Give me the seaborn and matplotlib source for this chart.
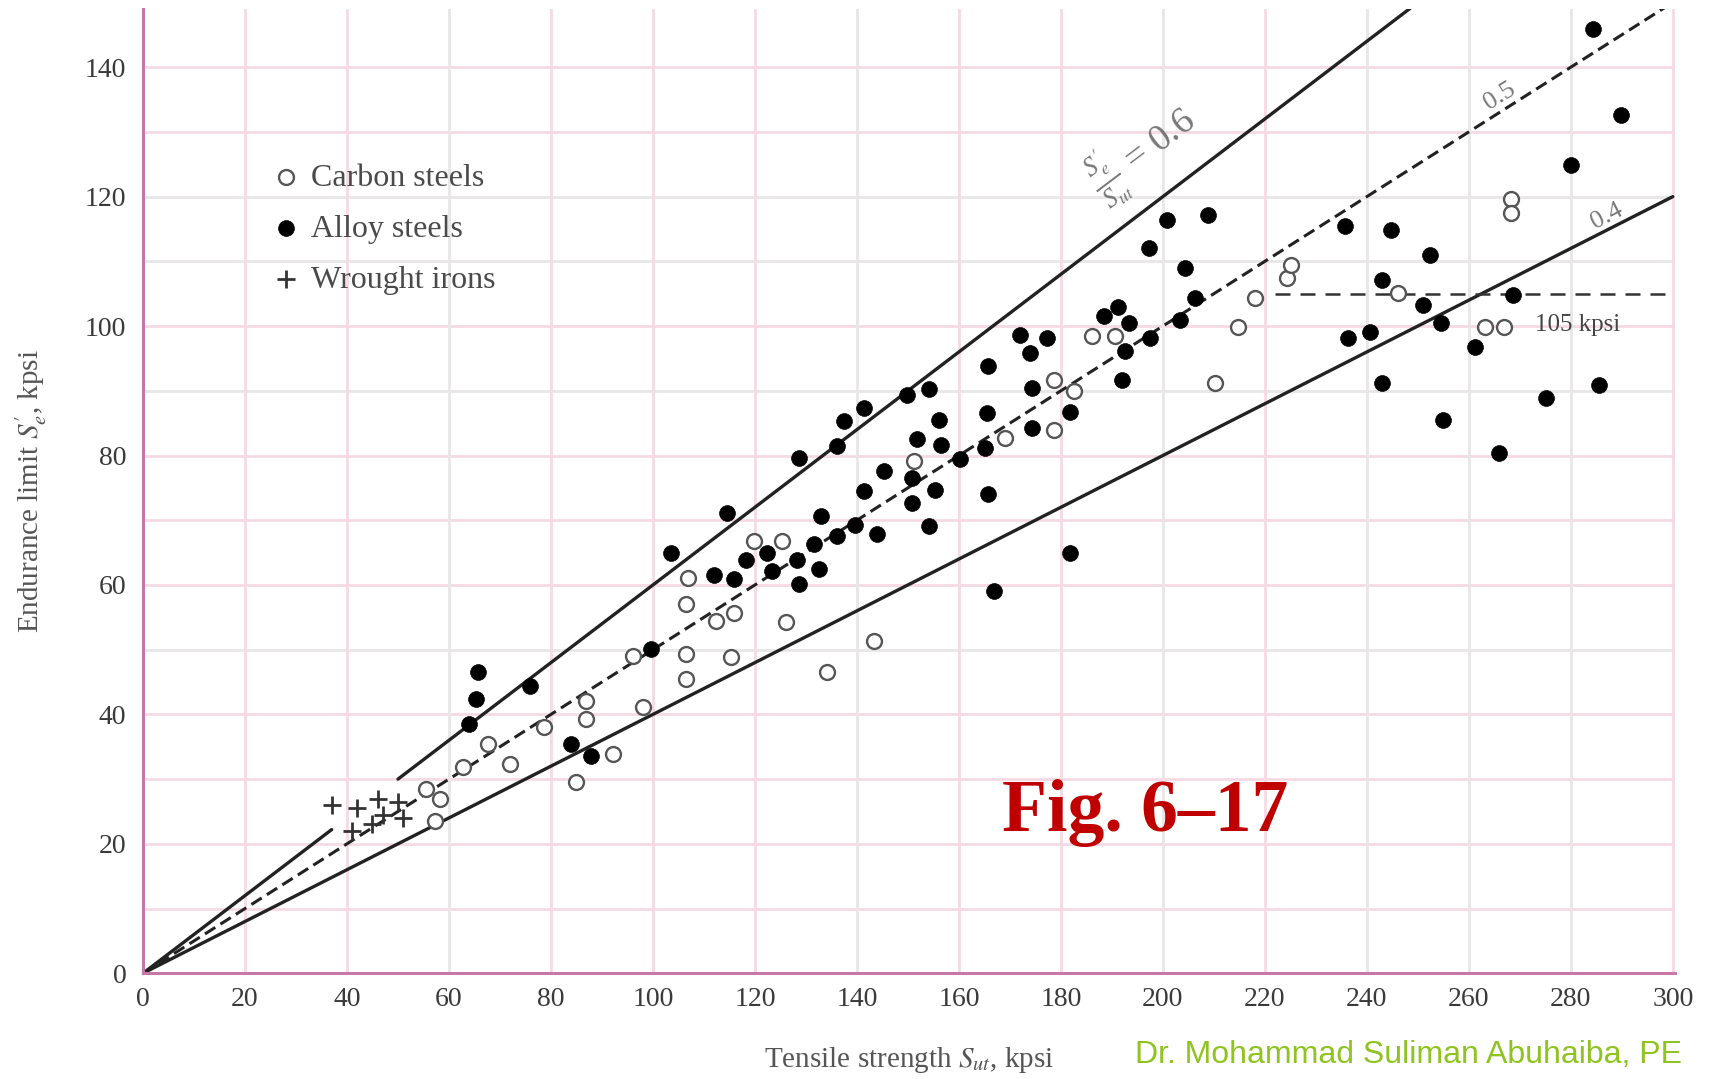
import matplotlib
matplotlib.use('Agg')
import matplotlib.pyplot as plt
import seaborn as sns
import numpy as np
import pandas as pd

# endurance limit vs tensile strength (kpsi)
carbon_x = [55.5, 58.2, 57.2, 62.7, 67.6, 71.9, 78.7, 84.9, 86.9, 86.9, 92.1, 96.0, 98.0,
            106.8, 106.5, 112.3, 115.9, 106.5, 115.3, 106.5, 119.8, 125.4, 126.0, 134.2, 143.3, 151.2,
            169.1, 178.6, 182.5, 178.6, 186.1, 190.6, 210.2, 214.8, 218.1, 224.3, 225.2,
            246.1, 263.1, 267.0, 268.3, 268.3]
carbon_y = [28.5, 26.9, 23.6, 31.8, 35.4, 32.3, 38.0, 29.5, 42.1, 39.3, 33.9, 49.0, 41.1,
            61.1, 57.0, 54.4, 55.7, 49.3, 48.8, 45.4, 66.8, 66.8, 54.2, 46.5, 51.3, 79.1,
            82.7, 91.7, 89.9, 84.0, 98.4, 98.4, 91.2, 99.9, 104.3, 107.4, 109.4,
            105.1, 99.9, 99.9, 119.7, 117.4]

alloy_x = [64.0, 65.3, 65.6, 75.8, 83.9, 87.9, 99.6,
           103.5, 112.0, 114.6, 115.9, 118.2, 122.4, 123.4, 128.3, 128.6, 128.6, 131.6, 132.6, 132.9,
           136.1, 136.1, 137.5, 139.7, 141.4, 141.4, 144.0, 145.3, 149.9, 150.8, 150.8, 151.8, 154.1,
           154.1, 155.4, 156.1, 156.4, 160.3, 165.2, 165.5, 165.8, 165.8, 166.8,
           172.0, 174.0, 174.3, 174.3, 177.3, 181.8, 181.8, 188.4, 191.3, 191.9, 192.6, 193.3, 197.2,
           197.5, 200.8, 203.4, 204.4, 206.3, 208.9,
           235.7, 236.4, 240.6, 242.9, 242.9, 244.8, 251.0, 252.3, 254.6, 254.9, 261.2, 266.0, 268.7,
           275.2, 280.1, 284.3, 285.6, 289.9]
alloy_y = [38.5, 42.4, 46.5, 44.4, 35.4, 33.6, 50.1,
           65.0, 61.6, 71.1, 60.9, 63.9, 65.0, 62.1, 63.9, 60.1, 79.6, 66.3, 62.4, 70.6,
           67.5, 81.4, 85.3, 69.3, 87.3, 74.5, 67.8, 77.6, 89.4, 76.5, 72.7, 82.5, 90.2,
           69.1, 74.7, 85.5, 81.7, 79.4, 81.2, 86.6, 93.8, 74.0, 59.1,
           98.6, 95.8, 90.4, 84.3, 98.1, 86.8, 65.0, 101.5, 103.0, 91.7, 96.1, 100.4, 112.0,
           98.1, 116.4, 101.0, 108.9, 104.3, 117.2,
           115.4, 98.1, 99.1, 107.1, 91.2, 114.9, 103.3, 111.0, 100.4, 85.5, 96.8, 80.4, 104.8,
           88.9, 124.9, 145.9, 90.9, 132.6]

wrought_x = [37, 42, 46, 47, 50, 51, 45, 41]
wrought_y = [26, 25.5, 27, 24.5, 26.5, 24, 23, 22]

# Se'/Sut ratio lines and the 105 kpsi cap
ratio_upper = 0.6
ratio_mid = 0.5
ratio_lower = 0.4
upper_segments = [(0, 37), (50, 248.5)]
cap_kpsi = 105
cap_start = 222

x_ticks = list(range(0, 301, 20))
y_ticks = list(range(0, 141, 20))

sns.set_theme(style='white')
plt.rcParams['font.family'] = ['Liberation Serif', 'DejaVu Serif']
plt.rcParams['mathtext.fontset'] = 'stix'

fig, ax = plt.subplots(figsize=(17.13, 10.79), dpi=100)
fig.subplots_adjust(left=0.0835, right=0.978, bottom=0.098, top=0.9917)

# graph paper grid
pink = '#f5d9e4'
grey = '#e9e6e8'
for yv in range(10, 150, 10):
    ax.axhline(yv, color=grey if yv in (50, 90, 110, 120) else pink, lw=2.0, zorder=0)
for xv in range(20, 301, 20):
    ax.axvline(xv, color=grey if xv in (60, 140, 200, 240, 260, 280) else pink, lw=2.0, zorder=0)

# ratio lines
for x0, x1 in upper_segments:
    xs = np.array([x0, x1])
    ax.plot(xs, ratio_upper * xs, color='#222222', lw=2.4, zorder=2)
xs = np.array([0, 300])
ax.plot(xs, ratio_mid * xs, color='#222222', lw=2.2, dashes=(4, 2), zorder=2)
ax.plot(xs, ratio_lower * xs, color='#222222', lw=2.4, zorder=2)
ax.plot([cap_start, 300], [cap_kpsi, cap_kpsi], color='#333333', lw=1.8, dashes=(6, 4), zorder=2)

# data
carbon = pd.DataFrame({'Sut': carbon_x, 'Se': carbon_y})
alloy = pd.DataFrame({'Sut': alloy_x, 'Se': alloy_y})
wrought = pd.DataFrame({'Sut': wrought_x, 'Se': wrought_y})

sns.scatterplot(data=carbon, x='Sut', y='Se', marker='o', s=115, facecolor='white',
                edgecolor='#555555', linewidth=1.7, label='Carbon steels', ax=ax, zorder=3)
sns.scatterplot(data=alloy, x='Sut', y='Se', marker='o', s=130, color='black',
                edgecolor='black', linewidth=0.5, label='Alloy steels', ax=ax, zorder=4)
sns.scatterplot(data=wrought, x='Sut', y='Se', marker='+', s=170, color='#333333',
                linewidth=2, label='Wrought irons', ax=ax, zorder=4)

# annotations
ax.text(196, 127, r"$\frac{S_e^{\prime}}{S_{ut}}$ = 0.6", rotation=37, fontsize=27, color='#777777',
        ha='center', va='center')
ax.text(266, 135.5, '0.5', rotation=32, fontsize=19, color='#777777', ha='center', va='center')
ax.text(287, 117, '0.4', rotation=27, fontsize=19, color='#777777', ha='center', va='center')
ax.text(273, 100.2, '105 kpsi', fontsize=18, color='#444444', ha='left', va='center')
ax.text(196.5, 24.7, 'Fig. 6\u201317', fontsize=53, fontweight='bold', color='#C00000',
        ha='center', va='center', zorder=5)

ax.set_xlim(0, 300.5)
ax.set_ylim(0, 149)
ax.set_xticks(x_ticks)
ax.set_yticks(y_ticks)
ax.tick_params(axis='both', length=0, labelsize=20, labelcolor='#3a3a3a')
ax.tick_params(axis='x', pad=10)
ax.tick_params(axis='y', pad=12)
ax.set_xlabel(r"Tensile strength $S_{ut}$, kpsi", fontsize=21, color='#555555', labelpad=24)
ax.set_ylabel(r"Endurance limit $S_e^{\prime}$, kpsi", fontsize=21, color='#555555', labelpad=26)

for side in ['top', 'right']:
    ax.spines[side].set_visible(False)
for side in ['left', 'bottom']:
    ax.spines[side].set_color('#c878a8')
    ax.spines[side].set_linewidth(2.2)

leg = ax.legend(loc='upper left', bbox_to_anchor=(0.087, 0.84), frameon=False, fontsize=23,
                handlelength=0.6, handletextpad=0.5, labelspacing=0.68, borderpad=0, borderaxespad=0)
for t in leg.get_texts():
    t.set_color('#4a4a4a')

fig.text(0.982, 0.008, 'Dr. Mohammad Suliman Abuhaiba, PE', fontsize=23, color='#8fc31f',
         family='Liberation Sans', ha='right', va='bottom')

fig.savefig('out.png', dpi=100)
